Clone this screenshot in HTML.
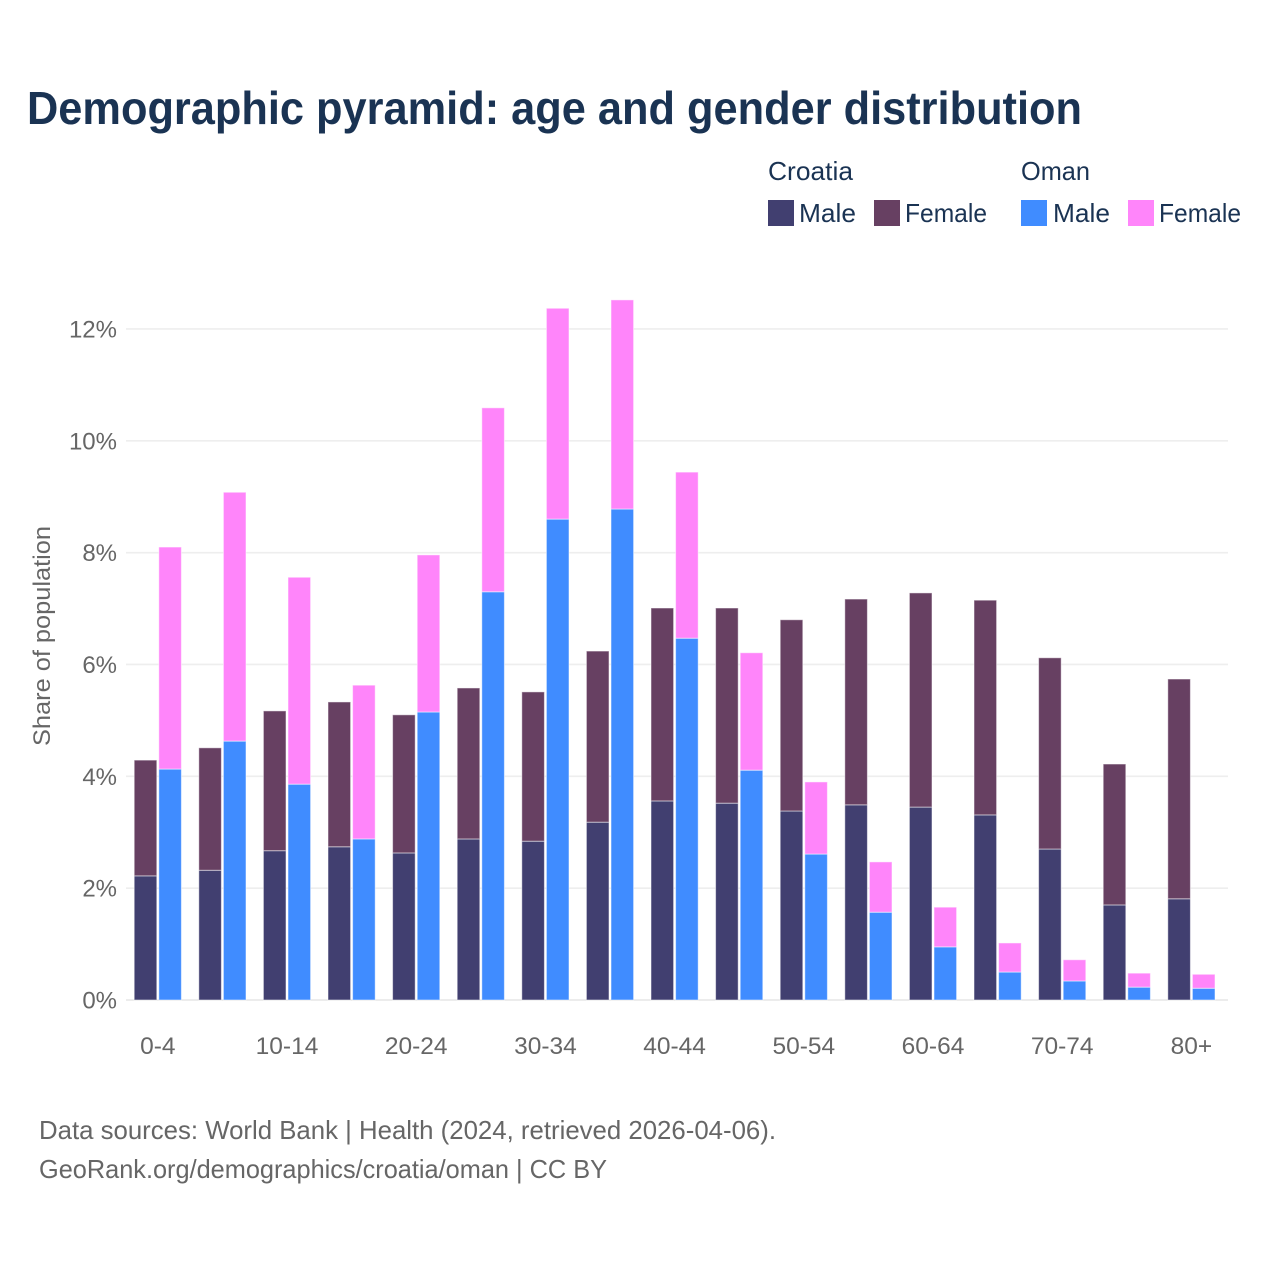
<!DOCTYPE html>
<html lang="en">
<head>
<meta charset="utf-8">
<title>Demographic pyramid: age and gender distribution</title>
<style>
html,body{margin:0;padding:0;background:#fff;}
svg{display:block;font-family:"Liberation Sans",sans-serif;}
</style>
</head>
<body>
<svg id="chart" xmlns="http://www.w3.org/2000/svg" width="1280" height="1280" viewBox="0 0 1280 1280">
<rect x="0" y="0" width="1280" height="1280" fill="#ffffff"/>
<text x="27" y="124" font-size="46" font-weight="700" fill="#1a3353" textLength="1055" lengthAdjust="spacingAndGlyphs">Demographic pyramid: age and gender distribution</text>
<g font-size="26" fill="#1a3353">
<text x="768" y="180" textLength="85" lengthAdjust="spacingAndGlyphs">Croatia</text>
<text x="1021" y="180" textLength="69" lengthAdjust="spacingAndGlyphs">Oman</text>
<rect x="768" y="200" width="26" height="26" fill="#413f70"/>
<text x="799" y="222" textLength="57" lengthAdjust="spacingAndGlyphs">Male</text>
<rect x="874" y="200" width="26" height="26" fill="#674062"/>
<text x="905" y="222" textLength="82" lengthAdjust="spacingAndGlyphs">Female</text>
<rect x="1021" y="200" width="26" height="26" fill="#408cff"/>
<text x="1053" y="222" textLength="57" lengthAdjust="spacingAndGlyphs">Male</text>
<rect x="1128" y="200" width="26" height="26" fill="#ff85fa"/>
<text x="1159" y="222" textLength="82" lengthAdjust="spacingAndGlyphs">Female</text>
</g>
<g id="grid"></g>
<g id="y-axis"></g>
<g id="bars"></g>
<g id="x-axis"></g>
<text transform="translate(50,636) rotate(-90)" text-anchor="middle" font-size="24" fill="#666666" textLength="220" lengthAdjust="spacingAndGlyphs">Share of population</text>
<text x="39" y="1139" font-size="26" fill="#666666" textLength="737" lengthAdjust="spacingAndGlyphs">Data sources: World Bank | Health (2024, retrieved 2026-04-06).</text>
<text x="39" y="1178" font-size="26" fill="#666666" textLength="568" lengthAdjust="spacingAndGlyphs">GeoRank.org/demographics/croatia/oman | CC BY</text>
</svg>
<script>
const categories = ["0-4","5-9","10-14","15-19","20-24","25-29","30-34","35-39","40-44","45-49","50-54","55-59","60-64","65-69","70-74","75-79","80+"];
const croatiaMale = [2.22,2.32,2.67,2.74,2.63,2.88,2.84,3.18,3.56,3.52,3.38,3.49,3.45,3.31,2.70,1.70,1.81];
const croatiaFemale = [2.07,2.19,2.50,2.59,2.47,2.70,2.67,3.06,3.45,3.49,3.42,3.68,3.83,3.84,3.42,2.52,3.93];
const omanMale = [4.13,4.63,3.86,2.88,5.15,7.30,8.60,8.78,6.47,4.11,2.61,1.57,0.95,0.50,0.34,0.23,0.21];
const omanFemale = [3.97,4.45,3.70,2.75,2.81,3.29,3.77,3.74,2.97,2.10,1.29,0.90,0.71,0.52,0.38,0.25,0.25];
const yTickValues = [0,2,4,6,8,10,12];
const yTickLabels = ["0%","2%","4%","6%","8%","10%","12%"];

const NS = "http://www.w3.org/2000/svg";
function yScale(v) { return 1000 - v * 55.92; }
function xCenter(i) { return 157.8 + i * 64.6; }
const barWidth = 22.6;
const barGap = 2;

function make(tag, attrs, parent) {
  const el = document.createElementNS(NS, tag);
  for (const k in attrs) el.setAttribute(k, attrs[k]);
  parent.appendChild(el);
  return el;
}

const gridG = document.getElementById("grid");
const yG = document.getElementById("y-axis");
yTickValues.forEach(function (v, i) {
  const line = make("line", {x1: 126, x2: 1228, y1: yScale(v), y2: yScale(v), stroke: v === 0 ? "#e6e6e6" : "#eeeeee", "stroke-width": 1.6}, gridG);
  
  
  const t = make("text", {x: 117, y: yScale(v) + 8.5, "text-anchor": "end", "font-size": 24, fill: "#666666"}, yG);
  
  
  t.textContent = yTickLabels[i];
});

const barsG = document.getElementById("bars");
function drawBar(x, base, value, color, name) {
  const top = yScale(base + value);
  const r = make("rect", {x: x, y: top, width: barWidth, height: yScale(base) - top, fill: color, stroke: "#ffffff", "stroke-opacity": 0.5, "stroke-width": 1}, barsG);
  
  
}
categories.forEach(function (c, i) {
  const left = xCenter(i) - barWidth - barGap / 2;
  const right = xCenter(i) + barGap / 2;
  drawBar(left, 0, croatiaMale[i], "#413f70", "bar-croatia-male-" + c);
  drawBar(left, croatiaMale[i], croatiaFemale[i], "#674062", "bar-croatia-female-" + c);
  drawBar(right, 0, omanMale[i], "#408cff", "bar-oman-male-" + c);
  drawBar(right, omanMale[i], omanFemale[i], "#ff85fa", "bar-oman-female-" + c);
});

const xG = document.getElementById("x-axis");
categories.forEach(function (c, i) {
  if (i % 2 !== 0) return;
  const t = make("text", {x: xCenter(i), y: 1054, "text-anchor": "middle", "font-size": 24.5, fill: "#666666"}, xG);
  
  
  t.textContent = c;
});
</script>
</body>
</html>
